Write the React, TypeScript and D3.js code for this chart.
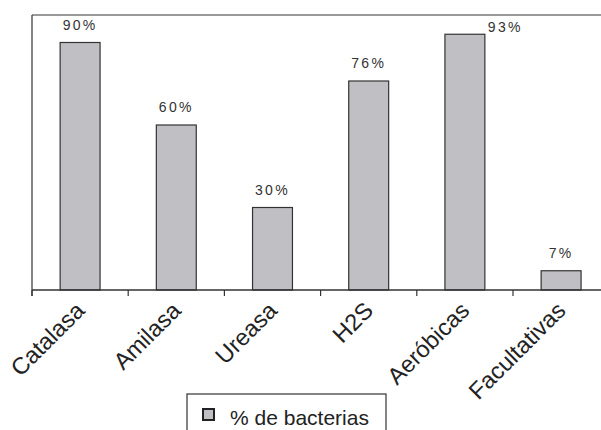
import React from "react";
import * as d3 from "d3";

const categories = ["Catalasa", "Amilasa", "Ureasa", "H2S", "Aeróbicas", "Facultativas"];
const values = [90, 60, 30, 76, 93, 7];
const valueLabels = ["90%", "60%", "30%", "76%", "93%", "7%"];
const seriesName = "% de bacterias";

const W = 601;
const H = 430;
const left = 32;
const step = 96.2;
const top = 15;
const bottom = 290;

export default function App() {
  const x = d3
    .scaleBand<string>()
    .domain(categories)
    .range([left, left + step * categories.length])
    .padding(0);
  const y = d3.scaleLinear().domain([0, 100]).range([bottom, top]);
  const bw = x.bandwidth() * 0.415;
  const font = "'Liberation Sans', Arial, sans-serif";
  const boundaries = categories.map((c) => x(c) as number);

  return (
    <svg
      width={W}
      height={H}
      style={{ position: "absolute", left: 0, top: 0, background: "#fff" }}
      fontFamily={font}
    >
      {/* top border */}
      <line x1={left} x2={W} y1={top} y2={top} stroke="#777" strokeWidth={1.5} />
      {/* left axis */}
      <line x1={left} x2={left} y1={top} y2={bottom + 6} stroke="#333" strokeWidth={1.2} />
      {/* bars */}
      {categories.map((c, i) => {
        const cx = (x(c) as number) + x.bandwidth() / 2;
        return (
          <rect
            key={c}
            x={cx - bw / 2}
            y={y(values[i])}
            width={bw}
            height={bottom - y(values[i])}
            fill="#c0c0c4"
            stroke="#333"
            strokeWidth={1.2}
          />
        );
      })}
      {/* baseline */}
      <line x1={left} x2={W} y1={bottom} y2={bottom} stroke="#333" strokeWidth={1.5} />
      {boundaries.map((b, i) => (
        <line key={i} x1={b} x2={b} y1={bottom} y2={bottom + 6} stroke="#333" strokeWidth={1.2} />
      ))}
      {/* value labels */}
      {categories.map((c, i) => {
        const cx = (x(c) as number) + x.bandwidth() / 2;
        const special = i === 4;
        return (
          <text
            key={c}
            x={special ? cx + bw / 2 + 3 : cx}
            y={special ? y(values[i]) - 2 : y(values[i]) - 13}
            textAnchor={special ? "start" : "middle"}
            fontSize={14}
            letterSpacing={2.3}
            fill="#333"
          >
            {valueLabels[i]}
          </text>
        );
      })}
      {/* category labels */}
      {categories.map((c) => {
        const cx = (x(c) as number) + x.bandwidth() / 2;
        return (
          <text
            key={c}
            transform={`translate(${cx + 6},${bottom + 22}) rotate(-45)`}
            textAnchor="end"
            fontSize={23.5}
            fill="#222"
          >
            {c}
          </text>
        );
      })}
      {/* legend */}
      <rect x={187} y={394} width={199} height={60} fill="#fff" stroke="#333" strokeWidth={1.2} />
      <rect x={203} y={409} width={11} height={11} fill="#c0c0c4" stroke="#222" strokeWidth={2} />
      <text x={230} y={425} fontSize={21} fill="#222">
        {seriesName}
      </text>
    </svg>
  );
}
